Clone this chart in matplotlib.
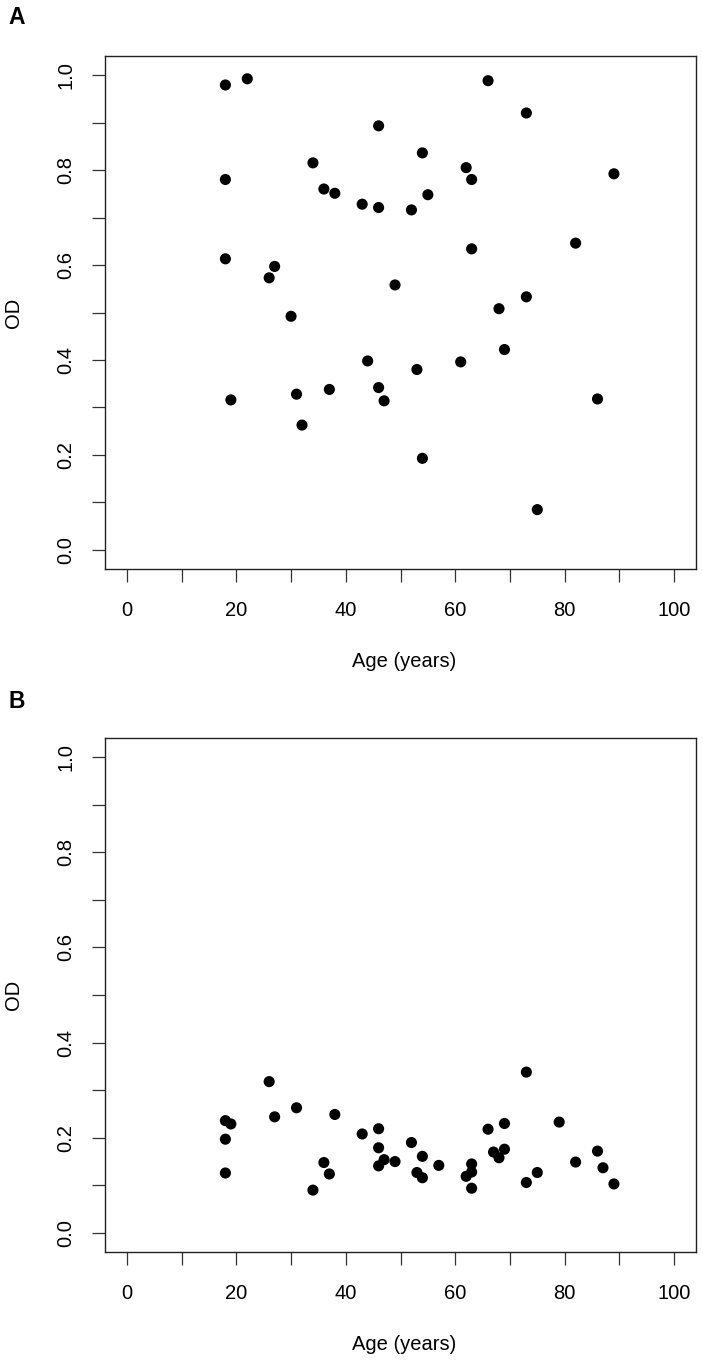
import matplotlib
matplotlib.use("Agg")
import matplotlib.pyplot as plt
import numpy as np

plt.rcParams['font.family'] = ['Liberation Sans', 'DejaVu Sans']

# Panel A data
age_a = [18, 22, 46, 34, 18, 36, 38, 43, 46, 18, 27, 26, 49, 30, 66, 73, 54, 62, 63,
         89, 55, 52, 63, 82, 73, 68, 44, 46, 47, 37, 31, 19, 32, 69, 61, 53, 86, 54, 75]
od_a = [0.979, 0.992, 0.893, 0.815, 0.780, 0.760, 0.751, 0.728, 0.721, 0.613, 0.597,
        0.573, 0.558, 0.492, 0.988, 0.920, 0.836, 0.805, 0.780, 0.792, 0.748, 0.716,
        0.634, 0.646, 0.533, 0.508, 0.398, 0.342, 0.314, 0.338, 0.328, 0.316, 0.263,
        0.422, 0.396, 0.380, 0.318, 0.193, 0.085]

# Panel B data
age_b = [18, 19, 18, 18, 26, 27, 31, 34, 36, 37, 38, 43, 46, 46, 46, 47, 49, 52, 53,
         54, 54, 57, 62, 63, 63, 63, 66, 67, 68, 69, 69, 73, 73, 75, 79, 82, 86, 87, 89]
od_b = [0.236, 0.229, 0.197, 0.126, 0.318, 0.244, 0.263, 0.090, 0.148, 0.124, 0.249,
        0.208, 0.219, 0.179, 0.141, 0.154, 0.150, 0.190, 0.127, 0.161, 0.116, 0.142,
        0.119, 0.145, 0.128, 0.094, 0.218, 0.170, 0.158, 0.230, 0.176, 0.338, 0.106,
        0.127, 0.233, 0.149, 0.172, 0.137, 0.103]

x_ticks = list(range(0, 101, 10))
x_labels = [str(v) if v % 20 == 0 else "" for v in x_ticks]
y_ticks = [round(v * 0.1, 1) for v in range(0, 11)]
y_labels = [f"{v:.1f}" if round(v * 10) % 2 == 0 else "" for v in y_ticks]
panel_letters = ["A", "B"]
x_title = "Age (years)"
y_title = "OD"

W, H = 703, 1361
fig = plt.figure(figsize=(W / 100, H / 100), dpi=100)
fig.patch.set_facecolor("white")

boxes = [(105, 56, 696, 569), (105, 738, 696, 1252)]
datasets = [(age_a, od_a), (age_b, od_b)]
letter_pos = [(8, 17), (8, 701)]
FS = 14.5

for (l, t, r, b), (xs, ys), letter, (lx, ly) in zip(boxes, datasets, panel_letters, letter_pos):
    ax = fig.add_axes([l / W, 1 - b / H, (r - l) / W, (b - t) / H])
    ax.scatter(xs, ys, s=64, color="black", edgecolors="none", zorder=3)
    ax.set_xlim(-4, 104)
    ax.set_ylim(-0.04, 1.04)
    ax.set_xticks(x_ticks)
    ax.set_xticklabels(x_labels, fontsize=FS)
    ax.set_yticks(y_ticks)
    ax.set_yticklabels(y_labels, fontsize=FS, rotation=90, va="center")
    ax.tick_params(axis="both", direction="out", length=9.5, width=0.9, color="#333333")
    ax.tick_params(axis="x", pad=13.5)
    ax.tick_params(axis="y", pad=12)
    for sp in ax.spines.values():
        sp.set_linewidth(1.0)
        sp.set_color("#222222")
    # axis titles
    cy = (t + b) / 2
    fig.text(14 / W, 1 - cy / H, y_title, rotation=90, ha="center", va="center", fontsize=FS)
    fig.text(((l + r) / 2 + 4) / W, 1 - (b + 93) / H, x_title, ha="center", va="center", fontsize=FS)
    fig.text(lx / W, 1 - ly / H, letter, ha="left", va="center", fontsize=16.5, fontweight="bold")

fig.savefig("out.png", dpi=100, facecolor="white")
